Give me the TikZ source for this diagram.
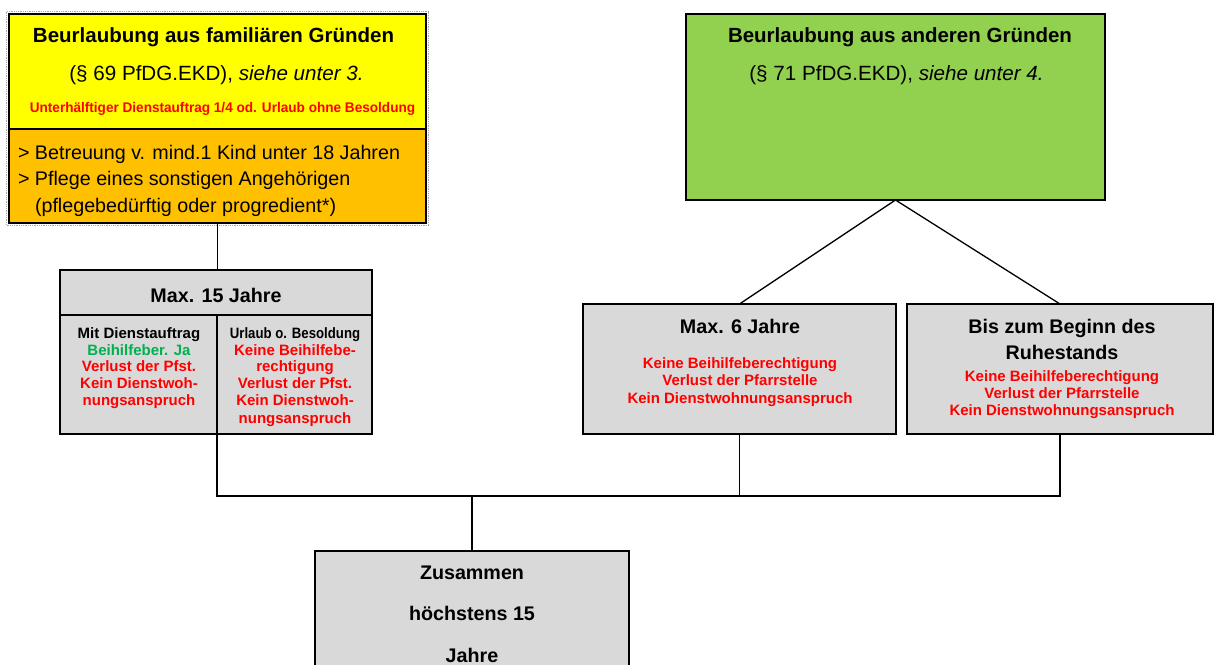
\documentclass[tikz,border=0pt]{standalone}
\usepackage{fontspec}
\setmainfont{Liberation Sans}
\usetikzlibrary{calc}
\newcommand{\fsz}[1]{\fontsize{#1}{#1}\selectfont}
\definecolor{byellow}{HTML}{FFFF00}
\definecolor{borange}{HTML}{FFC000}
\definecolor{bgreen}{HTML}{92D050}
\definecolor{bgray}{HTML}{D9D9D9}
\definecolor{tred}{HTML}{FF0000}
\definecolor{tgreen}{HTML}{00B050}
\begin{document}
\begin{tikzpicture}[x=1pt,y=-1pt,
  box/.style={draw=black, line width=2.4pt, rectangle, inner sep=0pt, outer sep=0pt, anchor=north west},
  conn/.style={draw=black, line width=1.3pt},
  tx/.style={anchor=base, inner sep=0pt, outer sep=0pt},
  ttl/.style={tx, font=\bfseries\fsz{20.5}},
  sub/.style={tx, font=\fsz{20.6}},
  orl/.style={tx, anchor=base west, font=\fsz{19.7}},
  sml/.style={tx, font=\bfseries\fsz{14}, text=tred},
  col/.style={tx, font=\bfseries\fsz{15}, text=tred},
  hd/.style={tx, font=\bfseries\fsz{19.7}}]
\useasboundingbox (0,0) rectangle (1215,664);
\clip (0,0) rectangle (1215,664);
\fill[white] (0,0) rectangle (1215,664);

% boxes
\node[box, fill=byellow, minimum width=417pt, minimum height=115pt] (yellow) at (9,14) {};
\node[box, fill=borange, minimum width=417pt, minimum height=94pt] (orange) at (9,129) {};
\draw[gray!70, densely dotted, line width=0.8pt] ($(yellow.north west)+(-2.5,-2.5)$) rectangle ($(orange.south east)+(2.5,2.5)$);
\node[box, fill=bgreen, minimum width=419pt, minimum height=186pt] (green) at (686,14) {};
\node[box, fill=bgray, minimum width=312pt, minimum height=45pt] (head) at (60,270) {};
\node[box, fill=bgray, minimum width=157pt, minimum height=119pt] (colL) at (60,315) {};
\node[box, fill=bgray, minimum width=155pt, minimum height=119pt] (colR) at (217,315) {};
\node[box, fill=bgray, minimum width=313pt, minimum height=130pt] (max6) at (583,304) {};
\node[box, fill=bgray, minimum width=306pt, minimum height=130pt] (bis) at (907,304) {};
\node[box, fill=bgray, minimum width=314pt, minimum height=150pt] (total) at (315,551) {};

% connectors
\coordinate (bus) at (0,496);
\draw[conn] (orange.south) -- (orange.south |- head.north);
\draw[conn] (green.south) -- (max6.north);
\draw[conn] (green.south) -- (bis.north);
\draw[conn] (colR.south west) -- (colR.south west |- bus) -- (bis.south |- bus) -- (bis.south);
\draw[conn] (max6.south) -- (max6.south |- bus);
\draw[conn] (total.north) -- (total.north |- bus);

% yellow / orange texts
\node[ttl] (t1) at (213.5,42) {Beurlaubung aus familiären Gründen};
\node[sub] (t2) at (216.5,80) {(§ 69 PfDG.EKD), \textit{siehe unter 3.}};
\node[sml] (t3) at (222.5,112) {\scalebox{0.97}[1]{Unterhälftiger Dienstauftrag 1/4 od. Urlaub ohne Besoldung}};
\node[orl] (o1) at (18,159) {> Betreuung v. mind.1 Kind unter 18 Jahren};
\node[orl] (o2) at (18,185) {> Pflege eines sonstigen Angehörigen};
\node[orl] (o3) at (35,212) {(pflegebedürftig oder progredient*)};

% green texts
\node[ttl] (g1) at (900,42) {Beurlaubung aus anderen Gründen};
\node[sub] (g2) at (896.5,80) {(§ 71 PfDG.EKD), \textit{siehe unter 4.}};

% max 15
\node[hd] (h1) at (216,302) {Max. 15 Jahre};
\node[col, text=black] (l1) at (139,338) {Mit Dienstauftrag};
\node[col, text=tgreen] (l2) at (139,355) {Beihilfeber. Ja};
\node[col] (l3) at (139,371) {Verlust der Pfst.};
\node[col] (l4) at (139,388) {Kein Dienstwoh-};
\node[col] (l5) at (139,405) {nungsanspruch};
\node[col, text=black] (r1) at (295,338) {\scalebox{0.88}[1]{Urlaub o. Besoldung}};
\node[col] (r2) at (295,355) {Keine Beihilfebe-};
\node[col] (r3) at (295,371) {rechtigung};
\node[col] (r4) at (295,388) {Verlust der Pfst.};
\node[col] (r5) at (295,405) {Kein Dienstwoh-};
\node[col] (r6) at (295,423) {nungsanspruch};

% max 6
\node[hd] (m1) at (740,333) {Max. 6 Jahre};
\node[col] (m2) at (740,368) {Keine Beihilfeberechtigung};
\node[col] (m3) at (740,385) {Verlust der Pfarrstelle};
\node[col] (m4) at (740,403) {Kein Dienstwohnungsanspruch};

% bis
\node[hd] (b1) at (1062,333) {Bis zum Beginn des};
\node[hd] (b2) at (1062,359) {Ruhestands};
\node[col] (b3) at (1062,381) {Keine Beihilfeberechtigung};
\node[col] (b4) at (1062,398) {Verlust der Pfarrstelle};
\node[col] (b5) at (1062,415) {Kein Dienstwohnungsanspruch};

% total
\node[hd] (z1) at (472,579) {Zusammen};
\node[hd] (z2) at (472,620) {höchstens 15};
\node[hd] (z3) at (472,662) {Jahre};
\end{tikzpicture}
\end{document}
